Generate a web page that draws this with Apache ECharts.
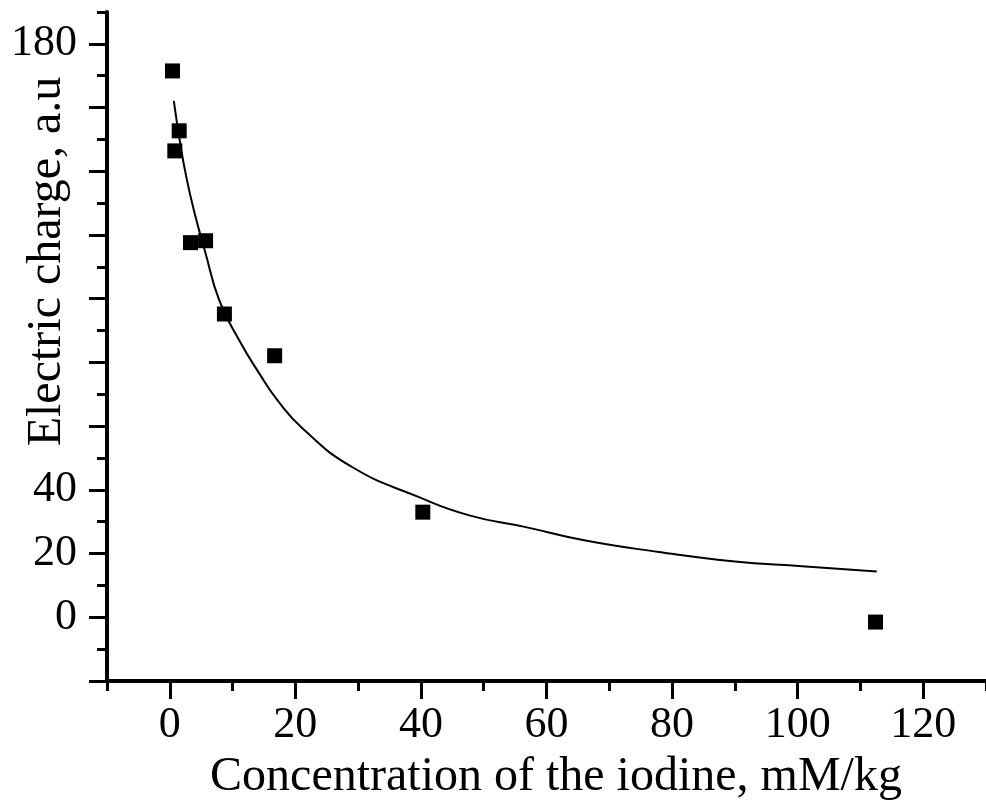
<!DOCTYPE html>
<html>
<head>
<meta charset="utf-8">
<script src="https://cdn.jsdelivr.net/npm/echarts@6/dist/echarts.min.js"></script>
<style>
html,body{margin:0;padding:0;background:#fff;}
#chart{width:986px;height:806px;}
</style>
</head>
<body>
<div id="chart"></div>
<script>
// Measured data points (concentration mM/kg, electric charge a.u.)
const pointX = [0.43, 1.5, 0.8, 3.3, 5.7, 8.7, 16.7, 40.3, 112.4];
const pointY = [171.5, 152.7, 146.4, 117.6, 118.2, 95.2, 82.1, 33.0, -1.5];

// Fitted curve
const curveX = [0.64, 1.6, 2.65, 4.0, 5.6, 7.9, 11.1, 14.3, 17.2, 21.2, 29.1, 39.7, 47.7, 56.7, 66.2, 77.9, 89.6, 100.7, 112.6];
const curveY = [162.1, 149.5, 138.0, 126.5, 115.0, 99.4, 86.8, 76.4, 68.0, 59.2, 47.1, 37.7, 32.0, 28.3, 24.1, 20.5, 17.6, 16.0, 14.4];

// Tick labels shown and major tick positions
const xLabels = [0, 20, 40, 60, 80, 100, 120];
const yLabels = [0, 20, 40, 180];
const xMajor = [0, 20, 40, 60, 80, 100, 120];
const yMajor = [-20, 0, 20, 40, 60, 80, 100, 120, 140, 160, 180];

const xTitle = 'Concentration of the iodine, mM/kg';
const yTitle = 'Electric charge, a.u';

const FONT = 'Liberation Serif';

const chart = echarts.init(document.getElementById('chart'), null, {renderer: 'canvas'});

const lineStyleAxis = {color: '#000', width: 4};
const tickStyle = {color: '#000', width: 3};
const isIn = (arr, v) => arr.some(a => Math.abs(a - v) < 1e-6);

chart.setOption({
  animation: false,
  backgroundColor: '#fff',
  grid: [
    {left: 107, right: 0, top: 12, bottom: 125, containLabel: false, outerBoundsMode: 'none'}
  ],
  xAxis: [
    {
      type: 'value', gridIndex: 0, position: 'bottom', min: -10, max: 130, interval: 10,
      axisLine: {show: true, onZero: false, lineStyle: lineStyleAxis},
      axisTick: {show: true, inside: false, length: 10, lineStyle: tickStyle},
      splitLine: {show: false},
      axisLabel: {
        show: true, margin: 22, color: '#000', fontFamily: FONT, fontSize: 44,
        customValues: xLabels,
        formatter: v => isIn(xLabels, v) ? String(Math.round(v)) : ''
      },
      name: xTitle, nameLocation: 'middle', nameGap: 72, nameMoveOverlap: false,
      nameTextStyle: {color: '#000', fontFamily: FONT, fontSize: 48, padding: [0, 0, 0, 19]}
    },
    {
      type: 'value', gridIndex: 0, position: 'bottom', offset: 0, min: -10, max: 130, interval: 10,
      axisLine: {show: false, onZero: false},
      axisTick: {show: true, inside: false, length: 18, lineStyle: tickStyle, customValues: xMajor},
      splitLine: {show: false},
      axisLabel: {show: false}
    }
  ],
  yAxis: [
    {
      type: 'value', gridIndex: 0, position: 'left', min: -20, max: 190, interval: 10,
      axisLine: {show: true, onZero: false, lineStyle: lineStyleAxis},
      axisTick: {show: true, inside: false, length: 10, lineStyle: tickStyle},
      splitLine: {show: false},
      axisLabel: {
        show: true, margin: 30, color: '#000', fontFamily: FONT, fontSize: 44,
        customValues: yLabels,
        formatter: v => isIn(yLabels, v) ? String(Math.round(v)) : ''
      },
      name: yTitle, nameLocation: 'middle', nameGap: 36, nameRotate: 90, nameMoveOverlap: false,
      nameTextStyle: {color: '#000', fontFamily: FONT, fontSize: 48, padding: [0, 0, 0, 170]}
    },
    {
      type: 'value', gridIndex: 0, position: 'left', offset: 0, min: -20, max: 190, interval: 10,
      axisLine: {show: false, onZero: false},
      axisTick: {show: true, inside: false, length: 18, lineStyle: tickStyle, customValues: yMajor},
      splitLine: {show: false},
      axisLabel: {show: false}
    }
  ],
  series: [
    {
      type: 'line', xAxisIndex: 1, yAxisIndex: 1,
      data: curveX.map((x, i) => [x, curveY[i]]),
      smooth: true, showSymbol: false, symbol: 'none',
      lineStyle: {color: '#000', width: 2},
      z: 2
    },
    {
      type: 'scatter', xAxisIndex: 0, yAxisIndex: 0,
      data: pointX.map((x, i) => [x, pointY[i]]),
      symbol: 'rect', symbolSize: 15,
      itemStyle: {color: '#000', opacity: 1},
      z: 3
    }
  ]
});
</script>
</body>
</html>
